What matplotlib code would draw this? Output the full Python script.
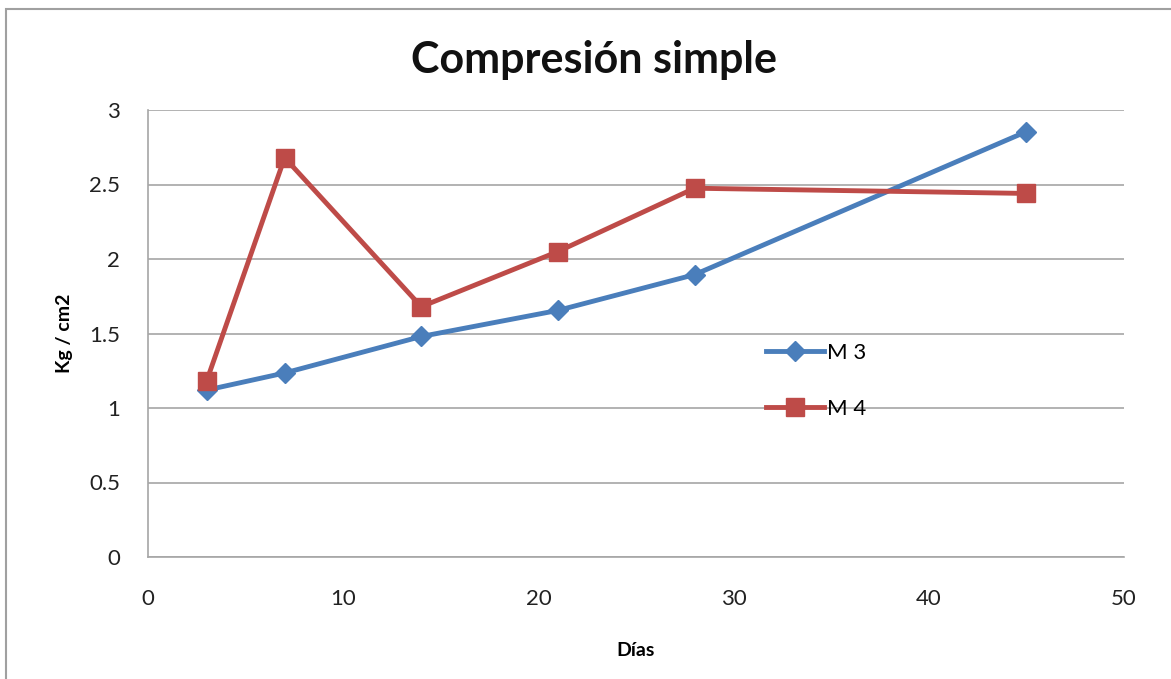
import matplotlib
matplotlib.use("Agg")
import matplotlib.pyplot as plt
from matplotlib.patches import Rectangle

# Curing ages (days) and compressive strength (kg/cm2)
dias = [3, 7, 14, 21, 28, 45]
m3 = [1.12, 1.235, 1.48, 1.655, 1.895, 2.855]
m4 = [1.18, 2.68, 1.68, 2.05, 2.475, 2.44]
series_names = ["M 3", "M 4"]
x_ticks = [0, 10, 20, 30, 40, 50]
y_ticks = [0, 0.5, 1, 1.5, 2, 2.5, 3]
y_tick_labels = ["0", "0.5", "1", "1.5", "2", "2.5", "3"]

plt.rcParams["font.family"] = ["Lato", "DejaVu Sans"]

W, H = 1171, 679
fig = plt.figure(figsize=(W / 100, H / 100), dpi=100)

# outer chart frame
fig.patches.append(Rectangle((6 / W, -0.2), 1.2, 1.2 - 9 / H, transform=fig.transFigure,
                             fill=False, edgecolor="#a0a0a0", linewidth=1.5))

ax = fig.add_axes([148 / W, 1 - 557 / H, (1124 - 148) / W, (557 - 110) / H])

grid_c = "#a6a6a6"
ax.set_xlim(0, 50)
ax.set_ylim(0, 3)
ax.set_xticks(x_ticks)
ax.set_yticks(y_ticks)
ax.set_yticklabels(y_tick_labels)
ax.yaxis.grid(True, color=grid_c, linewidth=1.2)
ax.set_axisbelow(True)
for s in ["top", "right"]:
    ax.spines[s].set_visible(False)
for s in ["left", "bottom"]:
    ax.spines[s].set_color(grid_c)
    ax.spines[s].set_linewidth(1.2)
ax.tick_params(length=0, labelsize=16, colors="#222222")
ax.tick_params(axis="x", pad=23)
ax.tick_params(axis="y", pad=20)

blue = "#4a7ebb"
red = "#be4b48"
ax.plot(dias, m3, color=blue, linewidth=3.5, marker="D", markersize=10,
        label=series_names[0], clip_on=False)
ax.plot(dias, m4, color=red, linewidth=3.5, marker="s", markersize=13,
        label=series_names[1], clip_on=False)

ax.set_xlabel("Días", fontsize=14, fontweight="bold", labelpad=24)
ax.set_ylabel("Kg / cm2", fontsize=14, fontweight="bold", labelpad=12)
fig.text(594 / W, 1 - 60 / H, "Compresión simple", fontsize=31, fontweight="bold",
         ha="center", va="center", color="#111111")

leg = ax.legend(loc="center left", bbox_to_anchor=(609 / 976, (557 - 381) / 447),
                frameon=False, fontsize=16, handlelength=2.6, labelspacing=1.6,
                handletextpad=0.15, borderaxespad=0)

fig.savefig("out.png", dpi=100)
